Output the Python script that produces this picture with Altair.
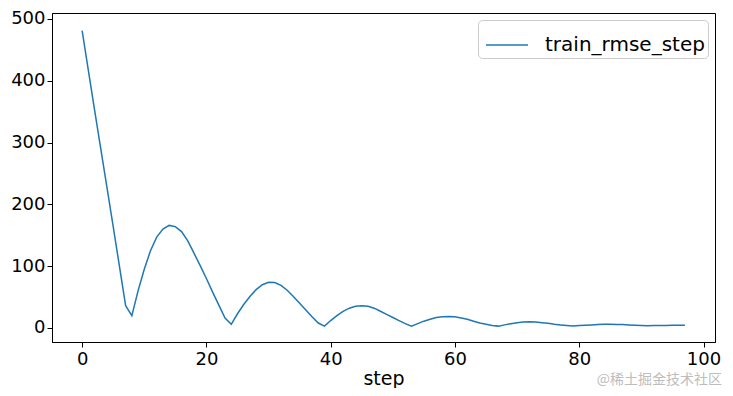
import altair as alt
import pandas as pd

steps = list(range(98))
train_rmse_step = [
    481, 417, 353, 290, 227, 164, 100, 36, 20, 60,
    95, 125, 147, 160, 166, 164, 156, 141, 121, 101,
    80, 58, 37, 16, 6, 23, 38, 51, 62, 70,
    74, 73.5, 69, 61, 51, 40, 29, 18, 8, 3,
    12, 20, 27, 32, 35, 36, 35, 32, 27, 22,
    17, 12, 7, 3, 7, 11, 14, 17, 18, 18.5,
    18, 16, 14, 11, 8, 6, 4, 3, 5, 7,
    8.5, 9.5, 10, 9.5, 8.5, 7.5, 6, 5, 4, 3,
    4, 4.5, 5, 5.5, 6, 6, 5.8, 5.5, 5, 4.5,
    4, 3.5, 3.8, 4, 4.2, 4.3, 4.4, 4.4,
]
series_name = "train_rmse_step"
x_ticks = [0, 20, 40, 60, 80, 100]
y_ticks = [0, 100, 200, 300, 400, 500]
watermark = ["@稀土掘金技术社区"]

df = pd.DataFrame({"step": steps, "value": train_rmse_step, "series": series_name})
wm = pd.DataFrame({"t": watermark})

FONT = "DejaVu Sans"
FS = 18

line = alt.Chart(df).mark_line(strokeWidth=1.5, clip=True).encode(
    x=alt.X("step:Q", scale=alt.Scale(domain=[-4.85, 101.85], nice=False, zero=False),
            axis=alt.Axis(values=x_ticks, title="step", grid=False, tickSize=5,
                          labelPadding=3, titlePadding=1, format="d")),
    y=alt.Y("value:Q", scale=alt.Scale(domain=[-22.7, 509.7], nice=False, zero=False),
            axis=alt.Axis(values=y_ticks, title=None, grid=False, tickSize=5,
                          labelPadding=2, format="d")),
    color=alt.Color("series:N", scale=alt.Scale(range=["#1f77b4"]),
                    legend=alt.Legend(title=None, orient="top-right", offset=7,
                                      symbolType="stroke", symbolSize=1764,
                                      symbolStrokeWidth=1.5, labelOffset=16,
                                      symbolOffset=4,
                                      strokeColor="#cccccc", fillColor="white",
                                      cornerRadius=4, padding=3,
                                      labelFontSize=20, labelFont=FONT,
                                      labelColor="black")),
)

text = alt.Chart(wm).mark_text(
    font="Noto Sans CJK SC", fontSize=14, color="#bdbdbd", align="right", baseline="middle"
).encode(x=alt.value(670), y=alt.value(367), text="t:N")

chart = alt.layer(line, text).properties(
    width=663, height=329,
    autosize=alt.AutoSizeParams(type="none"),
    padding={"left": 44, "top": 5, "right": 10, "bottom": 46},
).configure_view(stroke="black", strokeWidth=1).configure_axis(
    domainColor="black", tickColor="black", labelColor="black", titleColor="black",
    labelFont=FONT, titleFont=FONT, labelFontSize=FS, titleFontSize=19,
    titleFontWeight="normal", domainWidth=1, tickWidth=1,
)

chart.save("out.html", embed_options={"renderer": "svg", "actions": False})
